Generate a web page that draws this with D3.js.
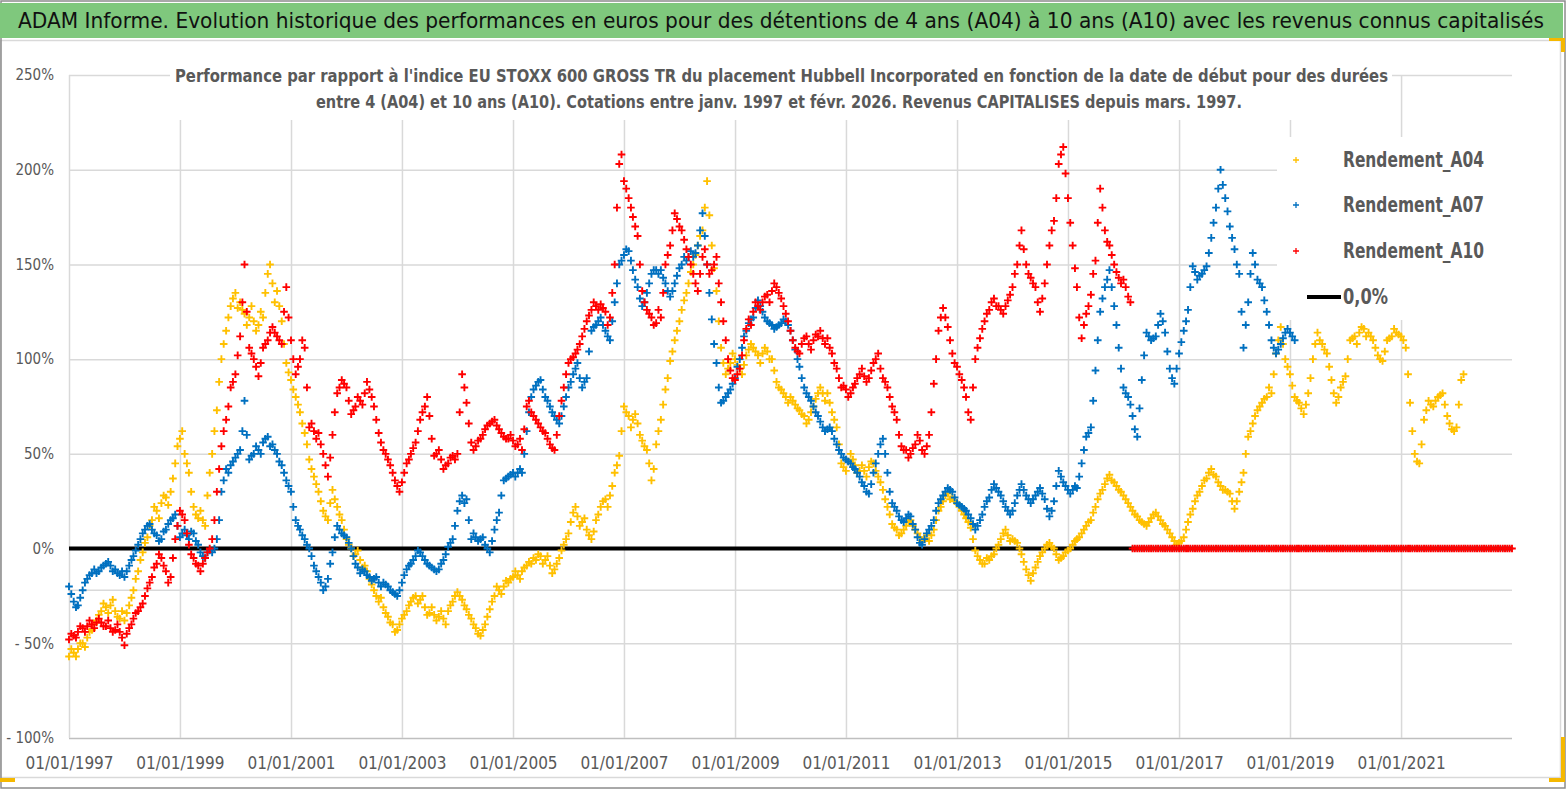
<!DOCTYPE html>
<html>
<head>
<meta charset="utf-8">
<script src="https://cdn.jsdelivr.net/npm/d3@7"></script>
<style>
  body { margin: 0; background: #fff; }
  text { font-family: "Liberation Sans Narrow", "DejaVu Sans Condensed", "Noto Sans", sans-serif; }
</style>
</head>
<body>
<script>
// ---- data: readings on the 1st and on the 16th of each month, from janv. 1997 ----
var startMonth = "1997-01";
var xTicks = ["1997-01-01","1999-01-01","2001-01-01","2003-01-01","2005-01-01","2007-01-01",
              "2009-01-01","2011-01-01","2013-01-01","2015-01-01","2017-01-01","2019-01-01","2021-01-01"];
var yTicks = [-100, -50, 0, 50, 100, 150, 200, 250];
var refLevel = -22;
var zeroLevel = 0;
var seriesNames = ["Rendement_A04", "Rendement_A07", "Rendement_A10"];

// Rendement_A04, 1st of month
var a04 = [
  -57,-55,-53,-50,-47,-43,-38,-33,-31,-30,-33,-37,
  -38,-30,-22,-12,-2,6,15,20,24,27,30,45,
  58,50,40,22,16,15,28,50,73,100,115,128,
  135,130,124,122,120,118,122,145,140,136,120,98,
  89,80,72,61,47,38,30,20,15,31,22,15,
  5,0,-3,-6,-9,-16,-22,-28,-31,-36,-40,-43,
  -37,-33,-28,-25,-27,-31,-34,-35,-36,-37,-33,-28,
  -23,-27,-32,-37,-42,-46,-40,-32,-25,-22,-20,-18,
  -15,-14,-12,-9,-8,-6,-4,-6,-9,-11,-5,2,
  8,19,17,14,10,5,15,22,26,28,40,49,
  75,70,68,66,57,52,36,55,68,84,99,110,
  120,131,140,150,160,168,194,160,136,106,92,98,
  100,95,97,105,106,102,103,104,100,88,84,80,
  80,76,73,70,68,75,82,82,82,72,64,45,
  41,50,44,41,41,43,45,38,31,22,13,10,
  8,12,15,10,6,5,4,10,20,25,29,27,
  24,20,16,11,-1,-6,-8,-6,-3,2,8,7,
  5,3,-3,-11,-17,-10,-4,0,3,0,-6,-4,
  -1,2,5,8,12,15,22,29,34,39,35,31,
  28,24,20,17,14,12,16,19,15,12,8,4,
  3,6,14,21,28,33,37,42,38,33,31,29,
  21,30,40,59,66,73,77,80,82,103,117,100,
  92,80,77,71,82,100,114,108,103,89,77,85,
  91,110,112,114,116,114,110,102,99,110,112,114,
  112,106,77,50,45,68,78,75,80,82,70,63,
  64,89
];
// Rendement_A04, 16th of month
var a04Mid = [
  -53,-57,-50,-52,-44,-40,-35,-29,-34,-27,-36,-33,
  -34,-26,-16,-6,3,12,22,16,28,23,37,54,
  62,45,30,18,20,12,40,62,88,108,122,132,
  127,126,118,128,115,125,135,150,130,128,108,93,
  84,76,66,55,42,34,25,17,24,26,18,10,
  2,-4,-1,-10,-12,-19,-25,-26,-34,-39,-44,-40,
  -35,-30,-26,-29,-25,-35,-31,-38,-33,-40,-30,-25,
  -25,-30,-35,-40,-45,-43,-36,-28,-20,-24,-17,-16,
  -12,-16,-10,-7,-5,-3,-8,-4,-13,-8,-1,5,
  14,22,12,16,7,9,18,25,22,33,44,62,
  72,64,71,60,54,45,42,62,76,90,104,115,
  126,135,146,155,165,180,176,148,120,98,95,103,
  97,92,102,108,104,98,106,100,94,85,82,77,
  78,74,71,66,72,79,85,78,77,68,55,43,
  46,47,40,44,38,46,41,35,26,18,11,7,
  10,14,12,8,4,7,7,15,22,28,26,25,
  22,18,14,5,-4,-8,-5,-4,0,5,10,4,
  4,0,-7,-14,-13,-7,-2,2,1,-3,-5,-2,
  0,4,6,10,14,19,26,31,37,36,33,30,
  26,22,18,15,13,14,18,17,13,10,6,2,
  4,10,18,25,30,36,40,39,35,31,30,25,
  25,35,50,62,70,75,79,85,92,110,108,96,
  86,78,74,76,90,108,110,105,96,82,80,88,
  100,111,108,117,112,112,106,100,104,111,116,113,
  110,92,62,46,55,73,76,78,81,76,66,62,
  76,92
];

// Rendement_A07, 1st of month
var a07 = [
  -20,-28,-30,-22,-16,-13,-13,-10,-8,-9,-11,-14,
  -15,-9,-4,2,8,12,10,7,5,10,15,18,
  6,10,5,8,2,-4,-2,-2,5,30,42,44,
  48,52,78,47,50,52,56,59,55,50,44,36,
  30,15,10,5,0,-9,-15,-22,-16,-2,12,8,
  6,0,-8,-13,-12,-15,-16,-18,-18,-20,-23,-25,
  -18,-11,-8,-4,-2,-6,-9,-11,-11,-6,1,5,
  20,28,26,5,6,5,2,-2,10,19,36,38,
  40,40,40,62,80,86,89,80,75,70,66,75,
  85,92,98,85,90,115,118,122,115,110,130,150,
  155,157,147,138,128,135,145,147,147,140,133,140,
  148,154,154,154,160,177,150,121,98,77,80,84,
  90,100,112,119,122,131,125,120,118,117,119,120,
  115,105,96,85,80,75,70,64,63,62,55,50,
  47,45,42,38,33,29,40,50,58,40,24,20,
  15,16,17,10,3,5,10,15,24,28,32,30,
  24,22,20,16,10,15,22,27,34,30,25,20,
  20,28,34,28,24,28,32,26,17,25,41,35,
  31,31,32,45,59,64,94,125,138,147,128,106,
  85,80,70,59,89,114,110,112,124,114,95,87,
  103,115,126,149,142,145,149,164,180,200,185,170,
  158,145,106,130,156,142,138,125,110,103,108,114,
  114,110
];
// Rendement_A07, 16th of month
var a07Mid = [
  -24,-31,-26,-18,-14,-11,-12,-9,-7,-12,-13,-12,
  -12,-6,-1,5,10,13,8,4,9,13,16,12,
  8,7,9,4,-2,-5,-1,0,15,36,40,46,
  50,62,60,49,54,50,58,54,52,46,40,33,
  22,12,7,2,-4,-12,-18,-20,-8,6,10,7,
  3,-4,-10,-11,-14,-17,-15,-20,-19,-22,-24,-22,
  -14,-9,-6,-1,-4,-8,-10,-12,-8,-3,3,12,
  25,24,15,8,4,6,0,4,15,28,37,39,
  38,42,50,72,84,88,84,78,72,68,70,80,
  88,95,90,88,104,117,120,118,112,120,140,152,
  158,152,142,132,130,140,147,145,143,136,136,144,
  150,152,157,156,168,165,135,108,85,78,82,87,
  96,106,115,121,127,128,122,119,116,118,121,118,
  110,100,90,82,78,72,67,62,64,58,52,48,
  46,43,40,35,30,34,45,55,50,30,22,17,
  14,18,13,6,2,8,12,20,26,30,31,27,
  23,21,18,13,12,18,25,31,32,28,22,18,
  24,31,31,26,26,30,29,21,20,33,38,33,
  29,33,38,52,61,78,110,132,142,138,118,95,
  82,76,63,74,102,112,111,118,120,104,90,95,
  109,120,138,146,144,147,156,172,190,192,178,164,
  150,125,118,145,150,140,131,118,106,105,111,116,
  112
];

// Rendement_A10, 1st of month (0 once the 10-year window runs past févr. 2026)
var a10 = [
  -48,-46,-44,-42,-41,-40,-39,-39,-41,-42,-43,-44,
  -51,-42,-37,-33,-29,-21,-15,-8,-5,-12,-15,5,
  20,15,2,-5,-9,-8,-2,5,30,54,68,85,
  92,112,150,106,100,91,106,110,117,112,108,138,
  110,92,100,106,64,62,61,50,38,60,82,89,
  85,71,75,78,82,84,75,61,52,47,40,33,
  35,45,50,56,68,75,70,49,52,42,45,49,
  50,92,77,56,54,58,63,66,68,63,59,58,
  57,55,52,75,72,68,64,61,55,52,70,85,
  98,101,105,112,120,126,128,129,125,122,150,203,
  194,185,175,165,136,126,122,119,122,150,160,177,
  170,163,154,145,136,154,150,147,154,130,110,94,
  89,95,110,121,125,128,130,134,136,138,132,124,
  115,106,103,111,108,110,112,111,111,103,95,85,
  84,82,87,92,91,90,98,103,90,85,75,68,
  54,52,50,55,57,50,60,87,115,127,117,103,
  96,89,80,68,100,111,120,126,132,128,124,131,
  138,150,168,150,143,138,125,140,160,173,203,212,
  185,160,138,111,124,134,152,190,168,160,150,143,
  142,133,0,0,0,0,0,0,0,0,0,0,
  0,0,0,0,0,0,0,0,0,0,0,0,
  0,0,0,0,0,0,0,0,0,0,0,0,
  0,0,0,0,0,0,0,0,0,0,0,0,
  0,0,0,0,0,0,0,0,0,0,0,0,
  0,0,0,0,0,0,0,0,0,0,0,0,
  0,0,0,0,0,0,0,0,0,0,0,0,
  0
];
// Rendement_A10, 16th of month
var a10Mid = [
  -45,-47,-41,-44,-38,-42,-37,-41,-38,-44,-40,-47,
  -45,-40,-34,-31,-25,-18,-10,-3,-9,-18,-5,12,
  18,8,-3,-8,-12,-5,0,15,42,62,75,88,
  102,130,125,103,96,98,108,114,114,110,125,122,
  100,96,110,85,66,58,55,44,48,72,85,87,
  78,73,80,76,88,80,68,56,50,44,36,30,
  40,47,53,62,72,80,58,50,47,44,48,47,
  72,85,66,52,57,60,65,67,65,61,58,60,
  54,58,63,78,70,66,62,58,53,60,78,92,
  100,103,108,116,123,130,126,127,118,135,180,208,
  190,180,170,150,130,124,118,126,135,155,168,174,
  168,158,150,140,145,158,145,150,140,120,100,90,
  92,102,116,118,130,126,133,130,140,135,128,120,
  110,104,108,112,105,113,115,108,106,98,90,86,
  80,85,90,95,88,94,100,95,88,80,72,60,
  52,48,53,60,52,54,72,100,122,122,110,98,
  92,85,72,85,106,116,124,130,128,126,128,134,
  145,160,158,145,140,130,132,150,168,185,208,198,
  172,148,122,118,128,145,172,180,162,155,146,140,
  138,130,0,0,0,0,0,0,0,0,0,0,
  0,0,0,0,0,0,0,0,0,0,0,0,
  0,0,0,0,0,0,0,0,0,0,0,0,
  0,0,0,0,0,0,0,0,0,0,0,0,
  0,0,0,0,0,0,0,0,0,0,0,0,
  0,0,0,0,0,0,0,0,0,0,0,0,
  0,0,0,0,0,0,0,0,0,0,0,0
];

var seriesStart = [a04, a07, a10];
var seriesMid = [a04Mid, a07Mid, a10Mid];
var seriesColors = ["#FFC000", "#0070C0", "#FF0000"];

// ---- canvas ----
var W = 1567, H = 790;
var plotLeft = 69, plotRight = 1512, plotTop = 75, plotBottom = 738;
var grey = "#595959", gridCol = "#d9d9d9";
var tickFont = "'Liberation Sans Narrow', 'DejaVu Sans Condensed', sans-serif";

var svg = d3.select("body").append("svg")
            .attr("width", W)
            .attr("height", H);

svg.append("rect").attr("width", W).attr("height", H).attr("fill", "#fff");

// chart area frame + outer frame
svg.append("rect")
   .attr("x", 0.5).attr("y", 40.5).attr("width", 1560).attr("height", 737)
   .attr("fill", "none").attr("stroke", gridCol).attr("stroke-width", 1.5);
svg.append("rect")
   .attr("x", 1).attr("y", 1).attr("width", 1564).attr("height", 787)
   .attr("fill", "none").attr("stroke", "#8c8c8c").attr("stroke-width", 1.5);

// title bar
svg.append("rect")
   .attr("x", 0).attr("y", 3).attr("width", 1563).attr("height", 35)
   .attr("fill", "#7FC87D");
svg.append("text")
   .attr("x", 18).attr("y", 28)
   .attr("font-size", 22)
   .attr("fill", "#111")
   .attr("textLength", 1526)
   .attr("lengthAdjust", "spacingAndGlyphs")
   .text("ADAM Informe. Evolution historique des performances en euros pour des détentions de 4 ans (A04) à 10 ans (A10) avec les revenus connus capitalisés");

// selection handles (orange corners)
var handle = "#F5B800";
svg.append("rect").attr("x", 0).attr("y", 778).attr("width", 15).attr("height", 4).attr("fill", handle);
svg.append("rect").attr("x", 1549).attr("y", 38).attr("width", 16).attr("height", 3).attr("fill", handle);
svg.append("rect").attr("x", 1561).attr("y", 38).attr("width", 4).attr("height", 14).attr("fill", handle);
svg.append("rect").attr("x", 1561).attr("y", 737).attr("width", 4).attr("height", 45).attr("fill", handle);
svg.append("rect").attr("x", 1549).attr("y", 778).attr("width", 16).attr("height", 4).attr("fill", handle);

// ---- scales ----
var parseDay = d3.timeParse("%Y-%m-%d");
var parseMonth = d3.timeParse("%Y-%m");
var x = d3.scaleTime()
          .domain([parseDay("1997-01-01"), parseDay("2023-01-01")])
          .range([plotLeft, plotRight]);
var y = d3.scaleLinear()
          .domain([-100, 250])
          .range([plotBottom, plotTop]);

var fmtPct = function (v) { return v < 0 ? "- " + (-v) + "%" : v + "%"; };

// horizontal grid + y labels
var gy = svg.append("g")
            .attr("transform", "translate(" + plotLeft + ",0)")
            .call(d3.axisLeft(y).tickValues(yTicks).tickSize(-(plotRight - plotLeft)).tickPadding(15).tickFormat(fmtPct));
gy.select(".domain").remove();
gy.selectAll("line").attr("stroke", function (d) { return d === -100 ? "#bfbfbf" : gridCol; }).attr("stroke-width", 1.5);
gy.selectAll("text").attr("fill", grey).attr("font-size", 15).style("font-family", tickFont);

// vertical grid + x labels
var gx = svg.append("g")
            .attr("transform", "translate(0," + plotBottom + ")")
            .call(d3.axisBottom(x).tickValues(xTicks.map(parseDay)).tickSize(-(plotBottom - plotTop))
                    .tickPadding(19).tickFormat(d3.timeFormat("%d/%m/%Y")));
gx.select(".domain").remove();
gx.selectAll("line").attr("stroke", gridCol).attr("stroke-width", 1.5);
gx.selectAll("text").attr("fill", grey).attr("font-size", 17).style("font-family", tickFont);

// extra reference level
svg.append("line")
   .attr("x1", x.range()[0]).attr("x2", x.range()[1])
   .attr("y1", y(refLevel)).attr("y2", y(refLevel))
   .attr("stroke", gridCol).attr("stroke-width", 1.5);

// subtitle box (hides the grid behind it)
svg.append("rect")
   .attr("x", 170).attr("y", 62).attr("width", 1222).attr("height", 58)
   .attr("fill", "#fff");
svg.append("text")
   .attr("x", 175).attr("y", 82)
   .attr("font-size", 17).attr("font-weight", "bold").attr("fill", grey)
   .attr("textLength", 1213).attr("lengthAdjust", "spacingAndGlyphs")
   .text("Performance par rapport à l'indice EU STOXX 600 GROSS TR  du placement Hubbell Incorporated en fonction de la date de début pour des durées");
svg.append("text")
   .attr("x", 316).attr("y", 108)
   .attr("font-size", 17).attr("font-weight", "bold").attr("fill", grey)
   .attr("textLength", 926).attr("lengthAdjust", "spacingAndGlyphs")
   .text("entre 4 (A04) et 10 ans (A10). Cotations entre janv. 1997 et févr. 2026. Revenus CAPITALISES depuis mars. 1997.");

// 0,0% line (under the points)
svg.append("path")
   .datum(x.domain())
   .attr("d", d3.line().x(function (d) { return x(d); }).y(function () { return y(zeroLevel); }))
   .attr("stroke", "#000").attr("stroke-width", 4).attr("fill", "none");

// scatter of "+" markers
var plus = "M-3.8,0H3.8M0,-3.8V3.8";
var t0 = parseMonth(startMonth);
var dateOf = function (i, mid) {
  var d = d3.timeMonth.offset(t0, i);
  return mid ? d3.timeDay.offset(d, 15) : d;
};
seriesStart.forEach(function (vals, k) {
  var pts = vals.map(function (v, i) { return { date: dateOf(i, false), v: v }; })
                .concat(seriesMid[k].map(function (v, i) { return { date: dateOf(i, true), v: v }; }));
  svg.append("g")
     .selectAll("path")
     .data(pts)
     .enter()
     .append("path")
     .attr("d", plus)
     .attr("transform", function (d) { return "translate(" + x(d.date) + "," + y(d.v) + ")"; })
     .attr("stroke", seriesColors[k])
     .attr("stroke-width", 1.9)
     .attr("fill", "none");
});

// legend (white box over the plot)
svg.append("rect")
   .attr("x", 1277).attr("y", 137).attr("width", 240).attr("height", 183)
   .attr("fill", "#fff");
var legY = [160, 205, 251];
seriesNames.forEach(function (name, k) {
  svg.append("path")
     .attr("d", "M-3,0H3M0,-3V3")
     .attr("transform", "translate(1296," + legY[k] + ")")
     .attr("stroke", seriesColors[k]).attr("stroke-width", 1.3);
  svg.append("text")
     .attr("x", 1343).attr("y", legY[k] + 7)
     .attr("font-size", 21).attr("font-weight", "bold").attr("fill", grey)
     .attr("textLength", 141).attr("lengthAdjust", "spacingAndGlyphs")
     .text(name);
});
svg.append("line")
   .attr("x1", 1307).attr("x2", 1341).attr("y1", 297).attr("y2", 297)
   .attr("stroke", "#000").attr("stroke-width", 4);
svg.append("text")
   .attr("x", 1343).attr("y", 304)
   .attr("font-size", 21).attr("font-weight", "bold").attr("fill", grey)
   .attr("textLength", 45).attr("lengthAdjust", "spacingAndGlyphs")
   .text("0,0%");
</script>
</body>
</html>
